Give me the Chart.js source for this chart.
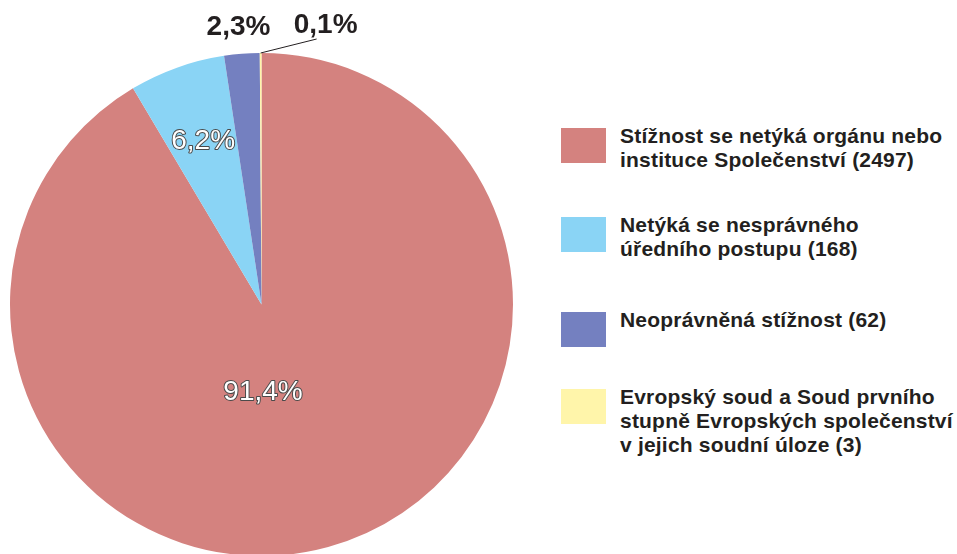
<!DOCTYPE html>
<html>
<head>
<meta charset="utf-8">
<script src="https://cdn.jsdelivr.net/npm/chart.js@4"></script>
<style>
  html, body { margin: 0; padding: 0; background: #fff; overflow: hidden; }
  body { width: 957px; height: 554px; position: relative; font-family: "Liberation Sans", Arial, sans-serif; }
  #pieWrap { position: absolute; left: 0; top: 0; width: 540px; height: 557px; }
  #legend { position: absolute; left: 561px; top: 0; }
  .item { position: absolute; left: 0; display: flex; align-items: flex-start; white-space: nowrap; }
  .swatch { width: 45px; height: 35px; margin-top: 4px; flex: none; }
  .txt { margin-left: 14px; font-weight: bold; font-size: 21px; letter-spacing: 0.2px; line-height: 24px; color: #231f20; }
</style>
</head>
<body>
<div id="pieWrap"><canvas id="pie" width="540" height="557"></canvas></div>
<div id="legend"></div>
<script>
// ── Data ──────────────────────────────────────────────────────
const categories = [
    ['Stížnost se netýká orgánu nebo', 'instituce Společenství (2497)'],
    ['Netýká se nesprávného', 'úředního postupu (168)'],
    ['Neoprávněná stížnost (62)'],
    ['Evropský soud a Soud prvního', 'stupně Evropských společenství', 'v jejich soudní úloze (3)']
];
const counts     = [2497, 168, 62, 3];
const pctLabels  = ['91,4%', '6,2%', '2,3%', '0,1%'];
const colors     = ['#d4827f', '#8ad4f5', '#7480c0', '#fff5aa'];

// ── Legend (HTML) ─────────────────────────────────────────────
const legendTops = [124, 213, 308, 385];
const legendEl = document.getElementById('legend');
categories.forEach((lines, i) => {
    const div = document.createElement('div');
    div.className = 'item';
    div.style.top = legendTops[i] + 'px';
    div.innerHTML = `<div class="swatch" style="background:${colors[i]}"></div>
                     <div class="txt">${lines.join('<br>')}</div>`;
    legendEl.appendChild(div);
});

// ── Percent label plugin ──────────────────────────────────────
const labelStyle = [
    { kind: 'inside',  r: 0.35, angle: 89 },
    { kind: 'inside',  r: 0.69 },
    { kind: 'outside', r: 1.12, dx: -1, dy: 4 },
    { kind: 'leader',  lx: 56, ly: -14, tx: 65, ty: -28 }
];

const pctPlugin = {
    id: 'pctLabels',
    afterDatasetsDraw(chart) {
        const ctx = chart.ctx;
        const arcs = chart.getDatasetMeta(0).data;
        ctx.save();
        ctx.textAlign = 'center';
        ctx.textBaseline = 'middle';
        arcs.forEach((arc, i) => {
            const s = labelStyle[i];
            const R = arc.outerRadius;
            let mid = (arc.startAngle + arc.endAngle) / 2;
            if (s.angle !== undefined) mid = s.angle * Math.PI / 180;
            if (s.kind === 'inside') {
                const x = arc.x + Math.cos(mid) * R * s.r;
                const y = arc.y + Math.sin(mid) * R * s.r;
                ctx.font = '28px "Liberation Sans", Arial, sans-serif';
                ctx.lineWidth = 2;
                ctx.strokeStyle = '#4a4a4a';
                ctx.lineJoin = 'round';
                ctx.strokeText(pctLabels[i], x, y);
                ctx.fillStyle = '#fff';
                ctx.fillText(pctLabels[i], x, y);
            } else if (s.kind === 'outside') {
                const x = arc.x + Math.cos(mid) * R * s.r + (s.dx || 0);
                const y = arc.y + Math.sin(mid) * R * s.r + (s.dy || 0);
                ctx.font = 'bold 28px "Liberation Sans", Arial, sans-serif';
                ctx.fillStyle = '#231f20';
                ctx.fillText(pctLabels[i], x, y);
            } else {
                const ex = arc.x + Math.cos(mid) * R;
                const ey = arc.y + Math.sin(mid) * R;
                ctx.beginPath();
                ctx.moveTo(ex, ey);
                ctx.lineTo(ex + s.lx, ey + s.ly);
                ctx.lineWidth = 1;
                ctx.strokeStyle = '#231f20';
                ctx.stroke();
                ctx.font = 'bold 28px "Liberation Sans", Arial, sans-serif';
                ctx.fillStyle = '#231f20';
                ctx.fillText(pctLabels[i], ex + s.tx, ey + s.ty);
            }
        });
        ctx.restore();
    }
};

// ── Chart ─────────────────────────────────────────────────────
new Chart(document.getElementById('pie'), {
    type: 'pie',
    data: {
        labels: categories.map(l => l.join(' ')),
        datasets: [{
            data: counts,
            backgroundColor: colors,
            borderWidth: 0
        }]
    },
    options: {
        responsive: false,
        animation: false,
        layout: { padding: { left: 10, top: 53, right: 27, bottom: 1 } },
        plugins: { legend: { display: false }, tooltip: { enabled: false } }
    },
    plugins: [pctPlugin]
});
</script>
</body>
</html>
